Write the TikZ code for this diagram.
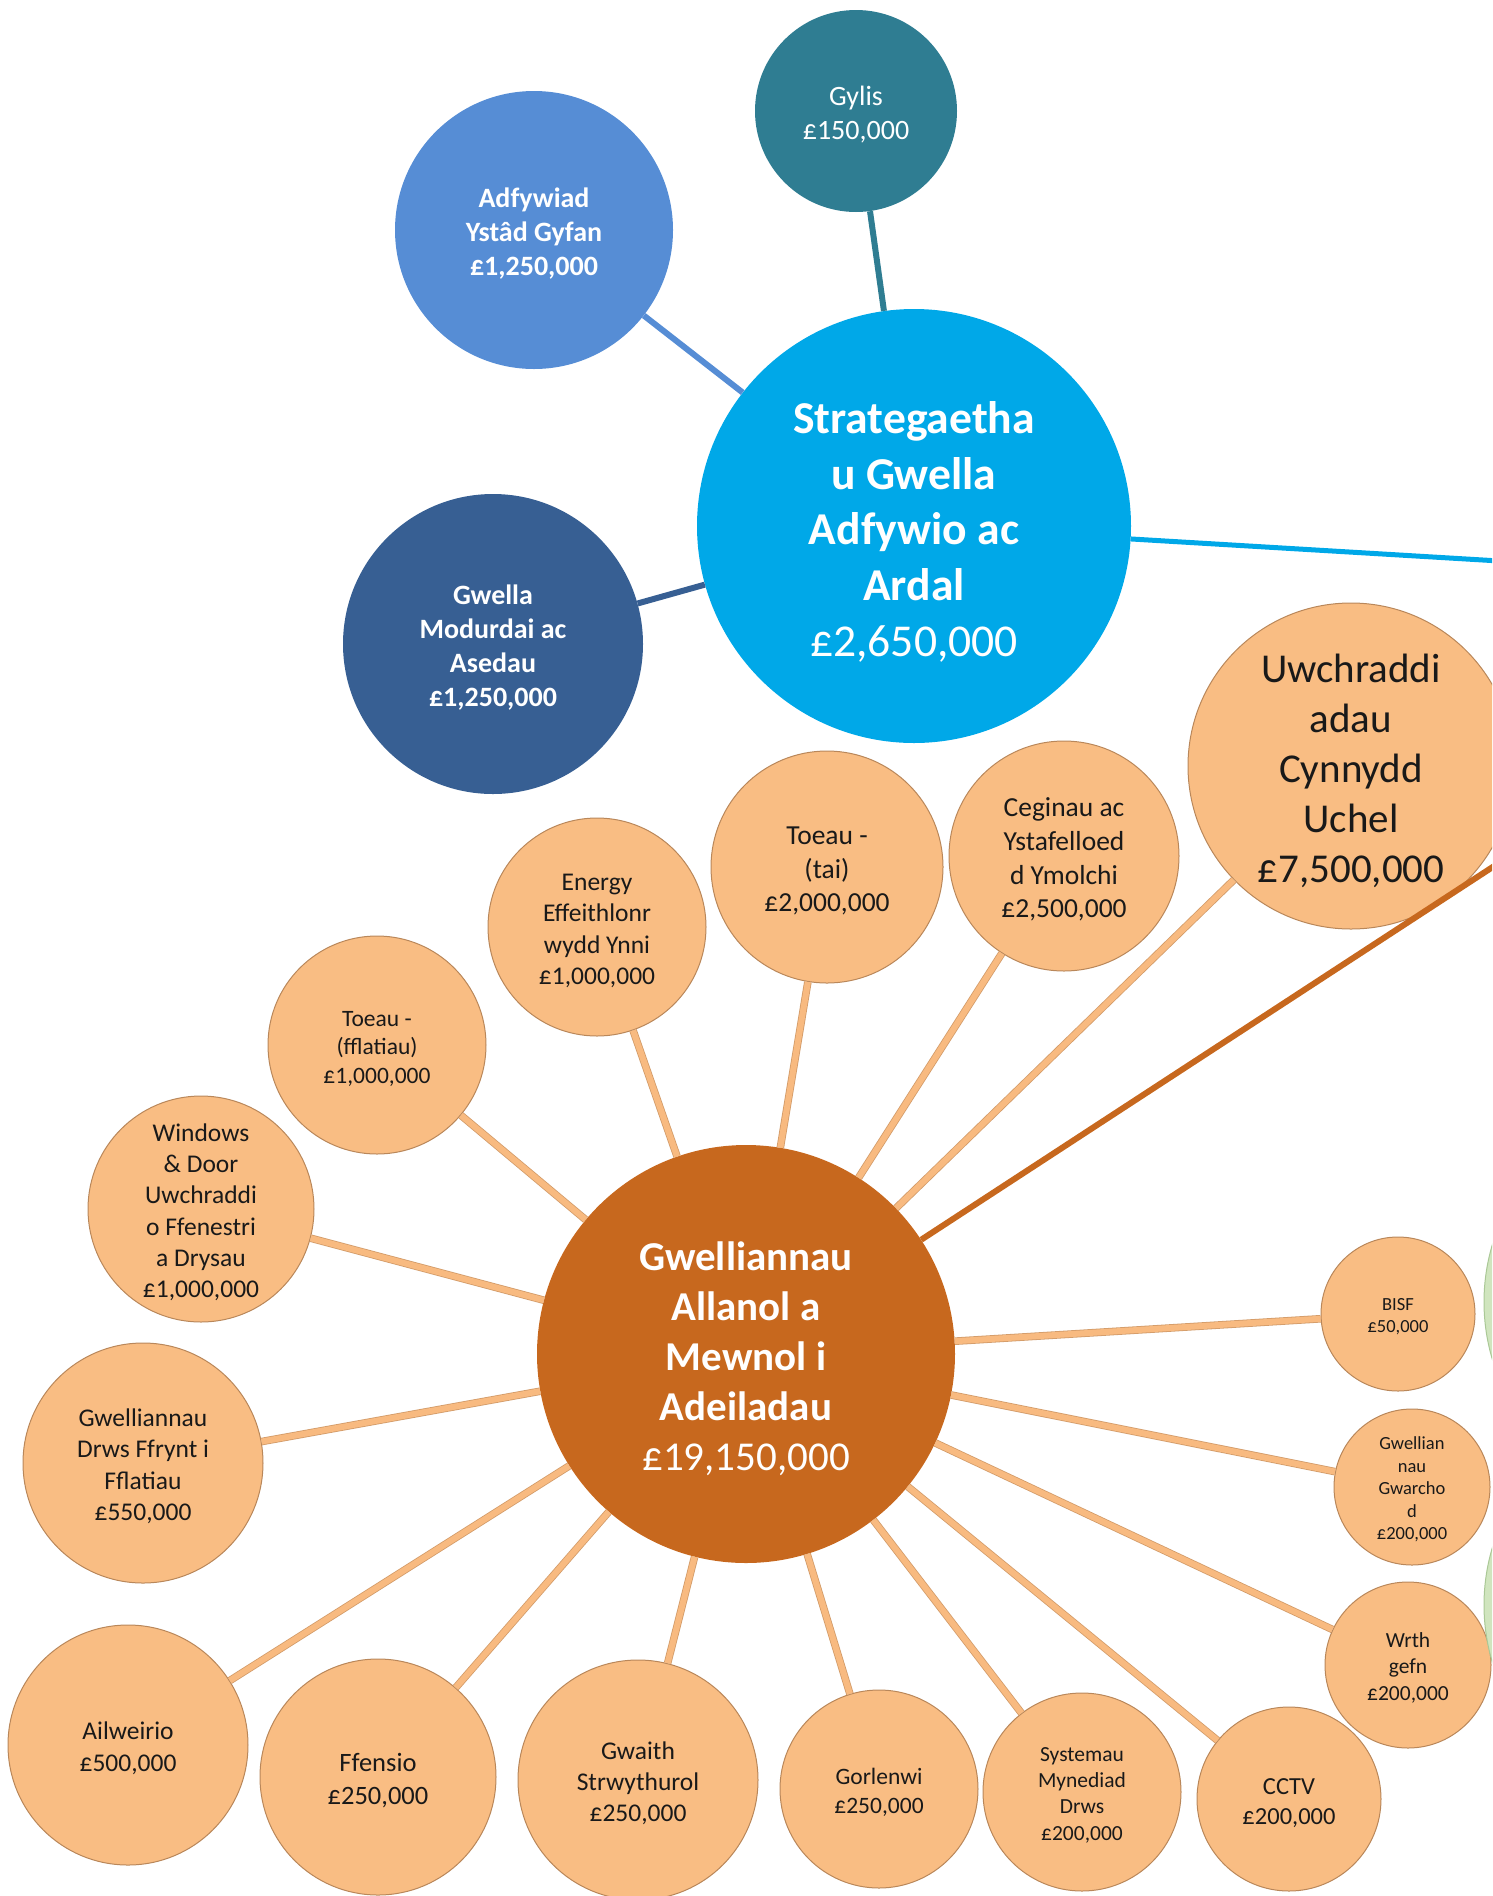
\documentclass[tikz,border=0pt]{standalone}
\usepackage{fontspec}
\setmainfont{Carlito}

\definecolor{gylisc}{RGB}{47,125,146}
\definecolor{adfyc}{RGB}{86,141,213}
\definecolor{stratc}{RGB}{0,168,232}
\definecolor{modc}{RGB}{55,95,147}
\definecolor{mainc}{RGB}{199,104,30}
\definecolor{leafc}{RGB}{249,189,131}
\definecolor{leafedge}{RGB}{185,135,90}
\definecolor{leafline}{RGB}{248,186,128}
\definecolor{greenc}{RGB}{208,229,190}
\definecolor{greenedge}{RGB}{170,200,150}

% font size with Calibri-like line spacing
\newcommand\fs[1]{\pgfmathsetmacro\lskip{1.22*#1}\fontsize{#1}{\lskip}\selectfont}
% a little more room above the first line
\newcommand\lift{\rule{0pt}{0.95em}}

\tikzset{
  bubble/.style={circle, inner sep=0pt, align=center, minimum size=#1},
  hub/.style={bubble=#1, text=white},
  leaf/.style={bubble=#1, fill=leafc, draw=leafedge, line width=1pt, text=black!90},
  spoke/.style={line width=0.8pt, draw=leafedge!60!leafline, double=leafline,
    double distance=6pt},
}

\begin{document}
\begin{tikzpicture}[x=1pt, y=-1pt]

  \useasboundingbox (0,0) rectangle (1492,1896);
  \clip (0,0) rectangle (1492,1896);

  % regeneration group
  \node[hub=434, fill=stratc, font=\fs{45.6}\bfseries] (strat) at (914,526)
    {\lift Strategaetha\\u Gwella\\Adfywio ac\\Ardal\\\mdseries £2,650,000};
  \node[hub=202, fill=gylisc, font=\fs{28}] (gylis) at (856,111) {\lift Gylis\\£150,000};
  \node[hub=278, fill=adfyc, font=\fs{28}\bfseries] (adfy) at (534,230)
    {\lift Adfywiad\\Ystâd Gyfan\\£1,250,000};
  \node[hub=300, fill=modc, font=\fs{28}\bfseries] (modur) at (493,644)
    {\lift Gwella\\Modurdai ac\\Asedau\\£1,250,000};
  \coordinate (stratout) at (1600,567);

  \draw[line width=6pt, gylisc] (strat) -- (gylis);
  \draw[line width=6pt, adfyc] (strat) -- (adfy);
  \draw[line width=6pt, modc] (strat) -- (modur);
  \draw[line width=5pt, stratc] (strat) -- (stratout);

  % improvements group
  \node[hub=418, fill=mainc, font=\fs{41}\bfseries] (main) at (746,1354)
    {\lift Gwelliannau\\Allanol a\\Mewnol i\\Adeiladau\\\mdseries £19,150,000};
  \coordinate (mainout) at (1600,797);

  \node[leaf=326, font=\fs{41}] (uwch) at (1351,766)
    {\lift Uwchraddi\\adau\\Cynnydd\\Uchel\\£7,500,000};
  \node[leaf=232, font=\fs{27.5}] (toeautai) at (827,867)
    {\lift Toeau -\\(tai)\\£2,000,000};
  \node[leaf=230, font=\fs{27.5}] (ceginau) at (1064,856)
    {\lift Ceginau ac\\Ystafelloed\\d Ymolchi\\£2,500,000};
  \node[leaf=218, font=\fs{25.5}] (energy) at (597,927)
    {\lift Energy\\Effeithlonr\\wydd Ynni\\£1,000,000};
  \node[leaf=218, font=\fs{23.5}] (toeauffl) at (377,1045)
    {\lift Toeau -\\(fflatiau)\\£1,000,000};
  \node[leaf=226, font=\fs{25.5}] (windows) at (201,1209)
    {\lift Windows\\\& Door\\Uwchraddi\\o Ffenestri\\a Drysau\\£1,000,000};
  \node[leaf=240, font=\fs{25.5}] (drws) at (143,1463)
    {\lift Gwelliannau\\Drws Ffrynt i\\Fflatiau\\£550,000};
  \node[leaf=240, font=\fs{25.5}] (ailw) at (128,1745) {\lift Ailweirio\\£500,000};
  \node[leaf=236, font=\fs{26.5}] (ffens) at (378,1777) {\lift Ffensio\\£250,000};
  \node[leaf=240, font=\fs{25.5}] (gwaith) at (638,1780)
    {\lift Gwaith\\Strwythurol\\£250,000};
  \node[leaf=198, font=\fs{23.5}] (gorlen) at (879,1789) {\lift Gorlenwi\\£250,000};
  \node[leaf=198, font=\fs{21.5}] (system) at (1082,1792)
    {\lift Systemau\\Mynediad\\Drws\\£200,000};
  \node[leaf=184, font=\fs{24.5}] (cctv) at (1289,1799) {\lift CCTV\\£200,000};
  \node[leaf=166, font=\fs{21.5}] (wrth) at (1408,1665) {\lift Wrth\\gefn\\£200,000};
  \node[leaf=156, font=\fs{18.5}] (gwarch) at (1412,1487)
    {\lift Gwellian\\nau\\Gwarcho\\d\\£200,000};
  \node[leaf=154, font=\fs{18.5}] (bisf) at (1398,1314) {\lift BISF\\£50,000};

  \foreach \n in {uwch,toeautai,ceginau,energy,toeauffl,windows,drws,ailw,
                  ffens,gwaith,gorlen,system,cctv,wrth,gwarch,bisf}
    \draw[spoke] (main) -- (\n);

  \draw[line width=6pt, mainc] (main) -- (mainout);

  % next group, cut off at the edge
  \node[bubble=400, fill=greenc, draw=greenedge, line width=1pt] (greena) at (1684,1302) {};
  \node[bubble=400, fill=greenc, draw=greenedge, line width=1pt] (greenb) at (1684,1605) {};

\end{tikzpicture}
\end{document}
